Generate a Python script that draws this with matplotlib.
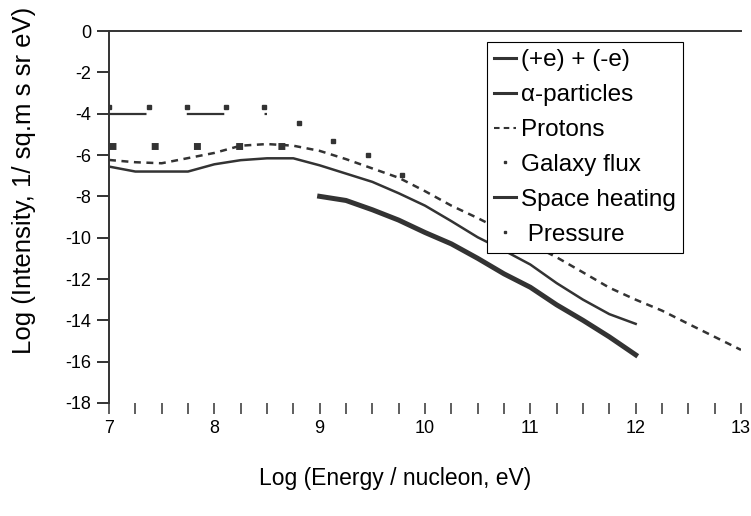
import matplotlib
matplotlib.use('Agg')
import matplotlib.pyplot as plt
from matplotlib.lines import Line2D
from matplotlib.ticker import MultipleLocator, FuncFormatter

plt.rcParams['font.family'] = ['Liberation Sans', 'DejaVu Sans']
plt.rcParams['lines.scale_dashes'] = False
plt.rcParams['axes.unicode_minus'] = False

# Data
pair_x = [9.0, 9.25, 9.5, 9.75, 10.0, 10.25, 10.5, 10.75, 11.0, 11.25, 11.5, 11.75, 12.0]
pair_y = [-8.0, -8.2, -8.65, -9.15, -9.75, -10.3, -11.0, -11.75, -12.4, -13.25, -14.0, -14.8, -15.67]

protons_x = [7.0, 7.25, 7.5, 7.75, 8.0, 8.25, 8.5, 8.75, 9.0, 9.25, 9.5, 9.75, 10.0,
             10.25, 10.5, 10.75, 11.0, 11.25, 11.5, 11.75, 12.0, 12.25, 12.5, 12.75, 13.0]
protons_y = [-6.24, -6.35, -6.4, -6.15, -5.9, -5.55, -5.47, -5.55, -5.8, -6.2, -6.65, -7.1, -7.75,
             -8.45, -9.05, -9.7, -10.3, -10.95, -11.68, -12.42, -13.0, -13.53, -14.17, -14.8, -15.43]

heating_x = [7.0, 7.25, 7.5, 7.75, 8.0, 8.25, 8.5, 8.75, 9.0, 9.25, 9.5, 9.75, 10.0,
             10.25, 10.5, 10.75, 11.0, 11.25, 11.5, 11.75, 12.0]
heating_y = [-6.56, -6.8, -6.8, -6.8, -6.45, -6.25, -6.16, -6.16, -6.5, -6.9, -7.3, -7.85, -8.45,
             -9.2, -9.98, -10.62, -11.3, -12.2, -13.0, -13.7, -14.17]

galaxy_x = [7.0, 8.75]
galaxy_y = [-5.56, -5.56]

pressure_x = [7.0, 7.38, 7.74, 8.11, 8.47, 8.80, 9.13, 9.46, 9.78]
pressure_y = [-3.7, -3.7, -3.7, -3.7, -3.7, -4.44, -5.31, -6.0, -6.97]

level_x = [7.0, 8.5]
level_y = [-4.0, -4.0]

ink = '#333333'

fig = plt.figure(figsize=(7.51, 5.16), dpi=100)
ax = fig.add_axes([109/751, 1 - 403/516, 632/751, 372/516])

ax.plot(level_x, level_y, color=ink, lw=1.6, dashes=(27, 29), solid_capstyle='butt')
ax.plot(pressure_x, pressure_y, ls='none', marker='s', ms=2.4, color=ink, mec=ink)
ax.plot(galaxy_x, galaxy_y, color=ink, lw=5, dashes=(5, 25.4), dash_capstyle='butt')
ax.plot(protons_x, protons_y, color=ink, lw=1.8, dashes=(5, 4), dash_capstyle='butt')
ax.plot(heating_x, heating_y, color=ink, lw=1.8)
ax.plot(pair_x, pair_y, color=ink, lw=3.6)

ax.set_xlim(7, 13)
ax.set_ylim(-18, 0)
ax.xaxis.set_major_locator(MultipleLocator(0.25))
ax.xaxis.set_major_formatter(FuncFormatter(lambda v, p: '%d' % round(v) if abs(v - round(v)) < 1e-6 else ''))
ax.yaxis.set_major_locator(MultipleLocator(2))
ax.tick_params(axis='x', direction='out', length=8, width=1.1, color=ink, labelsize=13, pad=4)
ax.tick_params(axis='y', direction='out', length=8.6, width=1.4, color=ink, labelsize=13, pad=4)

ax.spines['right'].set_visible(False)
ax.spines['bottom'].set_visible(False)
ax.spines['top'].set_color(ink)
ax.spines['top'].set_linewidth(1.4)
ax.spines['left'].set_color(ink)
ax.spines['left'].set_linewidth(1.4)

fig.text(0.526, 1 - 478/516, 'Log (Energy / nucleon, eV)', ha='center', va='center', fontsize=16.5)
fig.text(24/751, 1 - 180/516, 'Log (Intensity, 1/ sq.m s sr eV)', ha='center', va='center',
         rotation=90, fontsize=18.5)

handles = [
    Line2D([], [], color=ink, lw=2.2),
    Line2D([], [], color=ink, lw=2.2),
    Line2D([], [], color=ink, lw=1.5, dashes=(4, 3)),
    Line2D([], [], color=ink, ls='none', marker='s', ms=2),
    Line2D([], [], color=ink, lw=2.2),
    Line2D([], [], color=ink, ls='none', marker='s', ms=2),
]
labels = ['(+e) + (-e)', 'α-particles', 'Protons', 'Galaxy flux', 'Space heating', ' Pressure']
leg = fig.legend(handles, labels, loc='upper left', bbox_to_anchor=(487/751, 1 - 42/516),
                 bbox_transform=fig.transFigure, fontsize=17.5, frameon=True, fancybox=False,
                 edgecolor='black', framealpha=1, borderpad=0.3, handlelength=0.9,
                 handletextpad=0.2, labelspacing=0.53, borderaxespad=0)
leg.get_frame().set_linewidth(0.8)

fig.savefig('out.png', dpi=100)
